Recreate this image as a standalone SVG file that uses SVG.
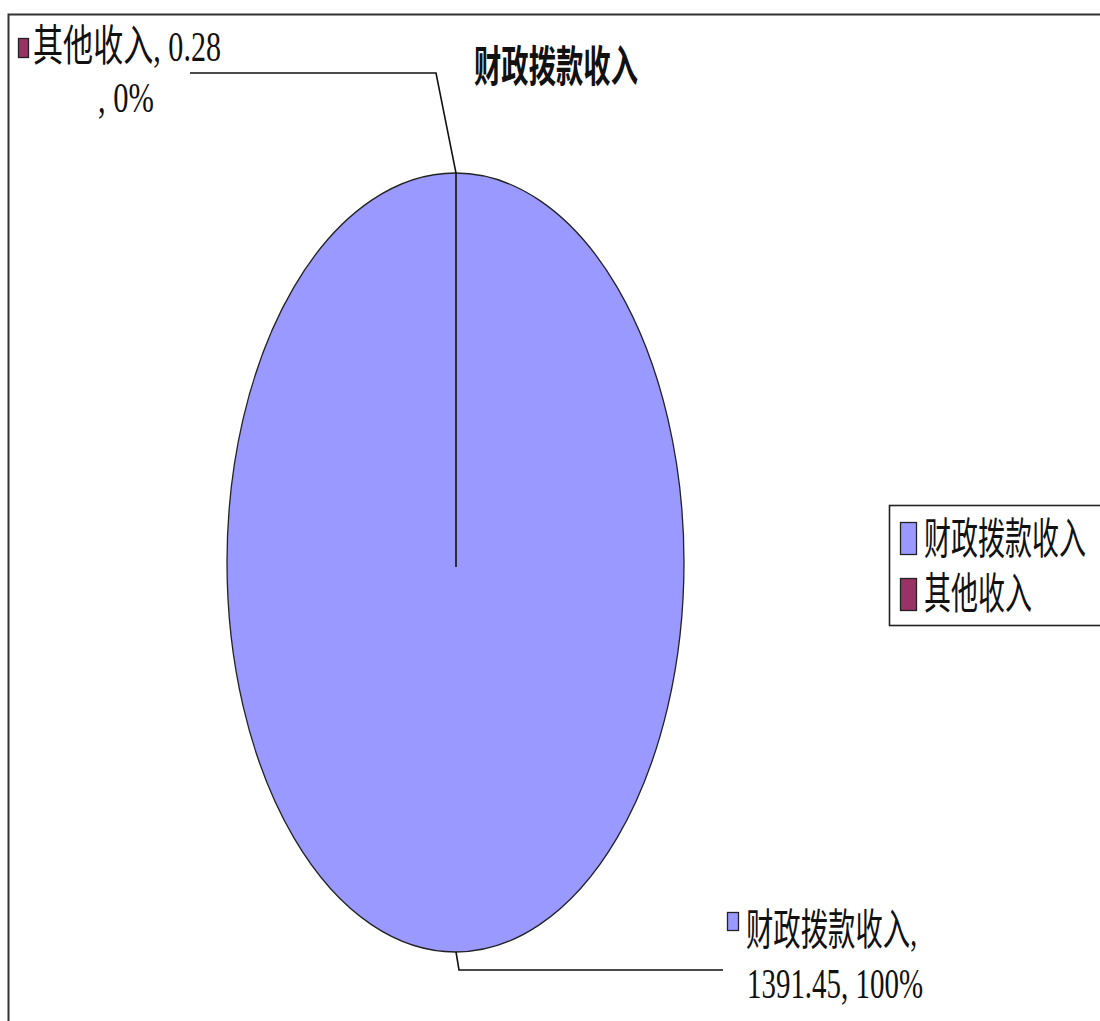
<svg xmlns="http://www.w3.org/2000/svg" width="1100" height="1021" viewBox="0 0 1100 1021">
<style>
.t{font-family:"Liberation Serif","Noto Sans CJK SC",serif;font-size:27px;fill:#111}
.b{font-weight:bold}
.ln{fill:none;stroke:#111;stroke-width:1.6}
.blue{fill:#9999FF;stroke:#222;stroke-width:1.3}
.red{fill:#993366;stroke:#222;stroke-width:1.3}
</style>
<rect width="1100" height="1021" fill="#fff"/>
<rect x="8.5" y="14.5" width="1110" height="1030" fill="#fff" stroke="#333" stroke-width="2"/>
<g id="title">
<text class="t b" transform="translate(474,82) scale(1,1.6)" textLength="164" lengthAdjust="spacingAndGlyphs">财政拨款收入</text>
</g>
<g id="pie">
<ellipse class="blue" cx="455.5" cy="562.5" rx="228.5" ry="389.5"/>
</g>
<g id="connectors">
<polyline class="ln" points="190,73 436,73 456,173 456,567"/>
<polyline class="ln" points="456,952 459,970 723,970"/>
</g>
<g id="label-other">
<rect class="red" x="18.5" y="38.5" width="10" height="19"/>
<text class="t" transform="translate(33,61) scale(1,1.6)" textLength="188" lengthAdjust="spacingAndGlyphs">其他收入, 0.28</text>
<text class="t" transform="translate(98,112) scale(1,1.6)" textLength="56" lengthAdjust="spacingAndGlyphs">, 0%</text>
</g>
<g id="label-fiscal">
<rect class="blue" x="727.5" y="912.5" width="11" height="18"/>
<text class="t" transform="translate(746,945) scale(1,1.6)" textLength="171" lengthAdjust="spacingAndGlyphs">财政拨款收入,</text>
<text class="t" transform="translate(747,998) scale(1,1.6)" textLength="176" lengthAdjust="spacingAndGlyphs">1391.45, 100%</text>
</g>
<g id="legend">
<rect x="889.5" y="505.5" width="230" height="120" fill="#fff" stroke="#222" stroke-width="1.6"/>
<rect class="blue" x="900.5" y="522.5" width="16" height="32"/>
<text class="t" transform="translate(924,554) scale(1,1.6)" textLength="162" lengthAdjust="spacingAndGlyphs">财政拨款收入</text>
<rect class="red" x="900.5" y="578.5" width="16" height="32"/>
<text class="t" transform="translate(924,609) scale(1,1.6)" textLength="108" lengthAdjust="spacingAndGlyphs">其他收入</text>
</g>
</svg>
